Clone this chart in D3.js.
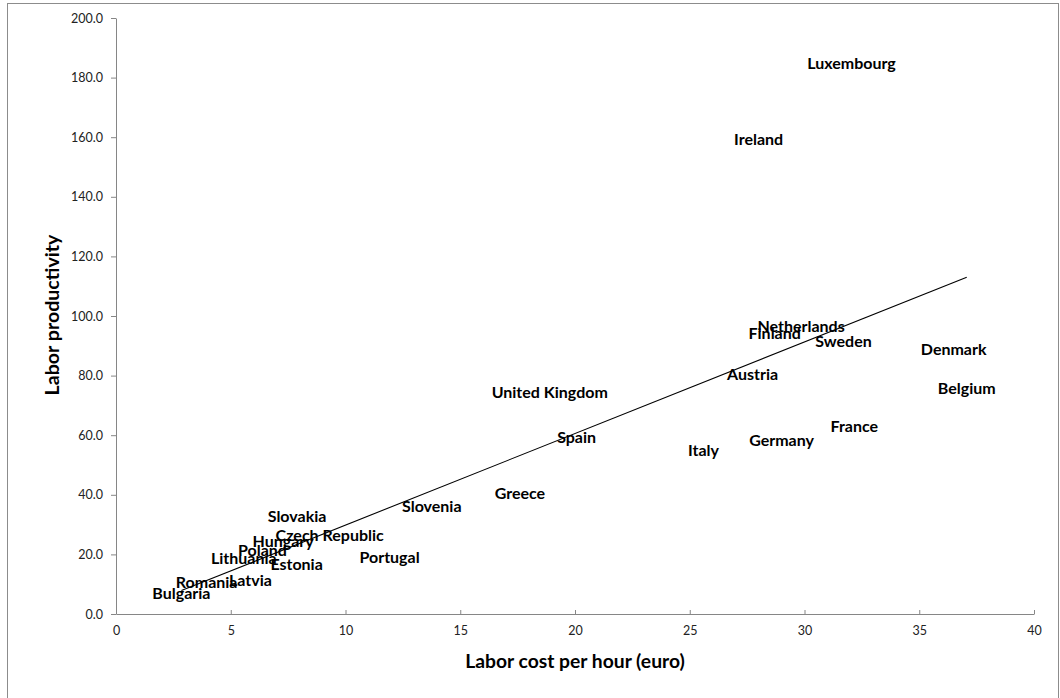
<!DOCTYPE html>
<html>
<head>
<meta charset="utf-8">
<script src="https://cdn.jsdelivr.net/npm/d3@7"></script>
<style>
  body { margin: 0; background: #fff; }
  svg { font-family: Lato, "Open Sans", sans-serif; }
</style>
</head>
<body>
<svg width="1060" height="698"></svg>
<script>
// ---- data
const countries = ["Luxembourg", "Ireland", "Netherlands", "Finland", "Sweden", "Denmark", "Belgium",
  "Austria", "France", "Germany", "Italy", "United Kingdom", "Spain", "Greece", "Slovenia",
  "Slovakia", "Czech Republic", "Hungary", "Poland", "Lithuania", "Estonia", "Portugal",
  "Latvia", "Romania", "Bulgaria"];
const laborCost = [32.05, 28.0, 29.85, 28.7, 31.7, 36.5, 37.07,
  27.74, 32.17, 29.0, 25.6, 18.9, 20.07, 17.6, 13.76,
  7.89, 9.31, 7.28, 6.38, 5.57, 7.87, 11.92,
  5.86, 3.95, 2.85];
const productivity = [184.9, 159.1, 96.6, 94.0, 91.4, 88.8, 75.7,
  80.3, 62.9, 58.2, 55.0, 74.5, 59.1, 40.6, 36.0,
  32.7, 26.3, 24.3, 21.5, 18.7, 16.7, 19.0,
  11.2, 10.6, 6.9];
const xTicks = [0, 5, 10, 15, 20, 25, 30, 35, 40];
const yTicks = [0, 20, 40, 60, 80, 100, 120, 140, 160, 180, 200];

const data = countries.map((c, i) => ({ name: c, x: laborCost[i], y: productivity[i] }));

const svg = d3.select('svg');
const margens = { left: 116, right: 26, top: 18, bottom: 84 };
const W = 1060, H = 698;

// ---- moldura do gráfico
svg.append('rect')
  .attr('x', 7.5).attr('y', 3.5)
  .attr('width', 1051).attr('height', 720)
  .attr('fill', 'none').attr('stroke', '#8c8c8c').attr('stroke-width', 1);

const mapX = d3.scaleLinear().domain([0, 40]).range([margens.left, W - margens.right]);
const mapY = d3.scaleLinear().domain([0, 200]).range([H - margens.bottom, margens.top]);

// ---- eixos
const xAxis = d3.axisBottom(mapX).tickValues(xTicks).tickSize(5).tickSizeOuter(0).tickFormat(d3.format('d'));
svg.append('g')
  .attr('transform', `translate(0, ${mapY(0)})`)
  .call(xAxis)
  .call(g => g.select('.domain').attr('stroke', '#868686'))
  .call(g => g.selectAll('.tick line').attr('stroke', '#868686').attr('y1', 0).attr('y2', -4))
  .call(g => g.selectAll('.tick text').attr('y', 12).attr('font-size', 12.5).attr('fill', '#222').attr('font-family', 'Lato'));

const yAxis = d3.axisLeft(mapY).tickValues(yTicks).tickSize(5).tickSizeOuter(0).tickFormat(d3.format('.1f'));
svg.append('g')
  .attr('transform', `translate(${mapX(0)}, 0)`)
  .call(yAxis)
  .call(g => g.select('.domain').attr('stroke', '#868686'))
  .call(g => g.selectAll('.tick line').attr('stroke', '#868686').attr('x1', 0).attr('x2', -5))
  .call(g => g.selectAll('.tick text').attr('x', -13).attr('font-size', 12.5).attr('fill', '#222').attr('font-family', 'Lato'));

// ---- títulos dos eixos
svg.append('text')
  .attr('x', 575).attr('y', 668)
  .attr('text-anchor', 'middle')
  .attr('font-size', 19.3).attr('font-weight', 'bold')
  .text('Labor cost per hour (euro)');

svg.append('text')
  .attr('transform', `translate(59, 315) rotate(-90)`)
  .attr('text-anchor', 'middle')
  .attr('font-size', 19.6).attr('font-weight', 'bold')
  .text('Labor productivity');

// ---- linha de tendência (regressão linear, como no Excel)
const mx = d3.mean(data, d => d.x), my = d3.mean(data, d => d.y);
const slope = d3.sum(data, d => (d.x - mx) * (d.y - my)) / d3.sum(data, d => (d.x - mx) ** 2);
const intercept = my - slope * mx;
const [x0, x1] = d3.extent(data, d => d.x);
svg.append('line')
  .attr('x1', mapX(x0)).attr('y1', mapY(intercept + slope * x0))
  .attr('x2', mapX(x1)).attr('y2', mapY(intercept + slope * x1))
  .attr('stroke', '#000').attr('stroke-width', 1.1);

// ---- rótulos dos países (centrados no ponto)
svg.append('g').selectAll('text')
  .data(data)
  .join('text')
  .attr('x', d => mapX(d.x))
  .attr('y', d => mapY(d.y))
  .attr('dy', '0.35em')
  .attr('text-anchor', 'middle')
  .attr('font-size', 16)
  .attr('font-weight', 'bold')
  .attr('fill', '#000')
  .text(d => d.name);
</script>
</body>
</html>
